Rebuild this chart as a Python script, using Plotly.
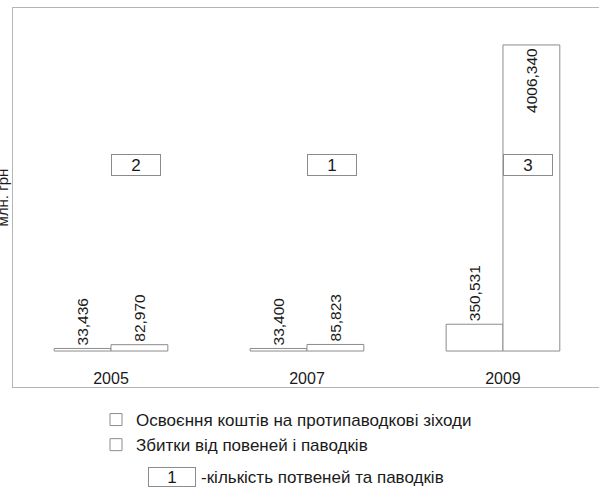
import plotly.graph_objects as go

years = ["2005", "2007", "2009"]
spending = [33.436, 33.400, 350.531]      # Освоєння коштів на протипаводкові зіходи
damage = [82.970, 85.823, 4006.340]       # Збитки від повеней і паводків
flood_counts = ["2", "1", "3"]
series_names = ["Освоєння коштів на протипаводкові зіходи", "Збитки від повеней і паводків"]
y_title = "млн. грн"
count_note = "-кількість потвеней та паводків"

def fmt(v):
    return f"{v:.3f}".replace(".", ",")

FONT = "Liberation Sans, Arial, sans-serif"
EDGE = "#8c8c8c"
TXT = "#1a1a1a"

L, T, W, H = 13, 8, 586, 379
def px(xp):
    return (xp - L) / W
def py(yp):
    return (T + H - yp) / H

fig = go.Figure()
fig.add_trace(go.Bar(
    x=years, y=spending, name=series_names[0],
    marker=dict(color="white", line=dict(color=EDGE, width=1)),
    text=[fmt(v) for v in spending], textposition="outside",
    textangle=-90, textfont=dict(size=15.5, color=TXT, family=FONT),
    constraintext="none", cliponaxis=False,
))
fig.add_trace(go.Bar(
    x=years, y=damage, name=series_names[1],
    marker=dict(color="white", line=dict(color=EDGE, width=1)),
    text=[fmt(v) for v in damage], textposition=["outside", "outside", "inside"],
    insidetextanchor="end",
    textangle=-90, textfont=dict(size=15.5, color=TXT, family=FONT),
    constraintext="none", cliponaxis=False,
))

for i, c in enumerate(flood_counts):
    fig.add_annotation(
        x=i, y=2435, xref="x", yref="y", xanchor="left", yanchor="middle",
        text=c, showarrow=False, width=46, height=18,
        bordercolor=EDGE, borderwidth=1, borderpad=1, bgcolor="white",
        font=dict(size=17, color=TXT, family=FONT),
    )

fig.add_annotation(
    x=0, y=0.5, xref="paper", yref="paper", xanchor="center", yanchor="middle",
    xshift=-11, text=y_title, textangle=-90, showarrow=False,
    font=dict(size=15, color=TXT, family=FONT),
)

fig.add_annotation(
    x=px(148), y=py(477), xref="paper", yref="paper", xanchor="left", yanchor="middle",
    text="1", showarrow=False, width=44, height=16,
    bordercolor=EDGE, borderwidth=1, borderpad=1, bgcolor="white",
    font=dict(size=17, color=TXT, family=FONT),
)
fig.add_annotation(
    x=px(199), y=py(477), xref="paper", yref="paper", xanchor="left", yanchor="middle",
    text=count_note, showarrow=False,
    font=dict(size=17, color=TXT, family=FONT),
)

fig.update_layout(
    width=599, height=488,
    margin=dict(l=L, r=0, t=T, b=488 - T - H, pad=0),
    paper_bgcolor="white", plot_bgcolor="white",
    barmode="group", bargap=0.42, bargroupgap=0,
    showlegend=True,
    legend=dict(
        x=px(96), y=py(402), xanchor="left", yanchor="top",
        font=dict(size=17, color=TXT, family=FONT),
        bgcolor="rgba(0,0,0,0)", itemwidth=30, tracegroupgap=0,
    ),
    xaxis=dict(
        type="category",
        range=[-0.5, 2.49], showline=True, mirror=True, linecolor="#b5b5b5", linewidth=1,
        ticks="", showgrid=False, ticklabelposition="inside",
        tickfont=dict(size=16, color=TXT, family=FONT), fixedrange=True,
    ),
    yaxis=dict(
        range=[-471, 4490], showline=True, linecolor="#b5b5b5", linewidth=1,
        showticklabels=False, ticks="", showgrid=False, zeroline=False,
    ),
    font=dict(family=FONT, color=TXT),
)

fig.write_html("out.html")
